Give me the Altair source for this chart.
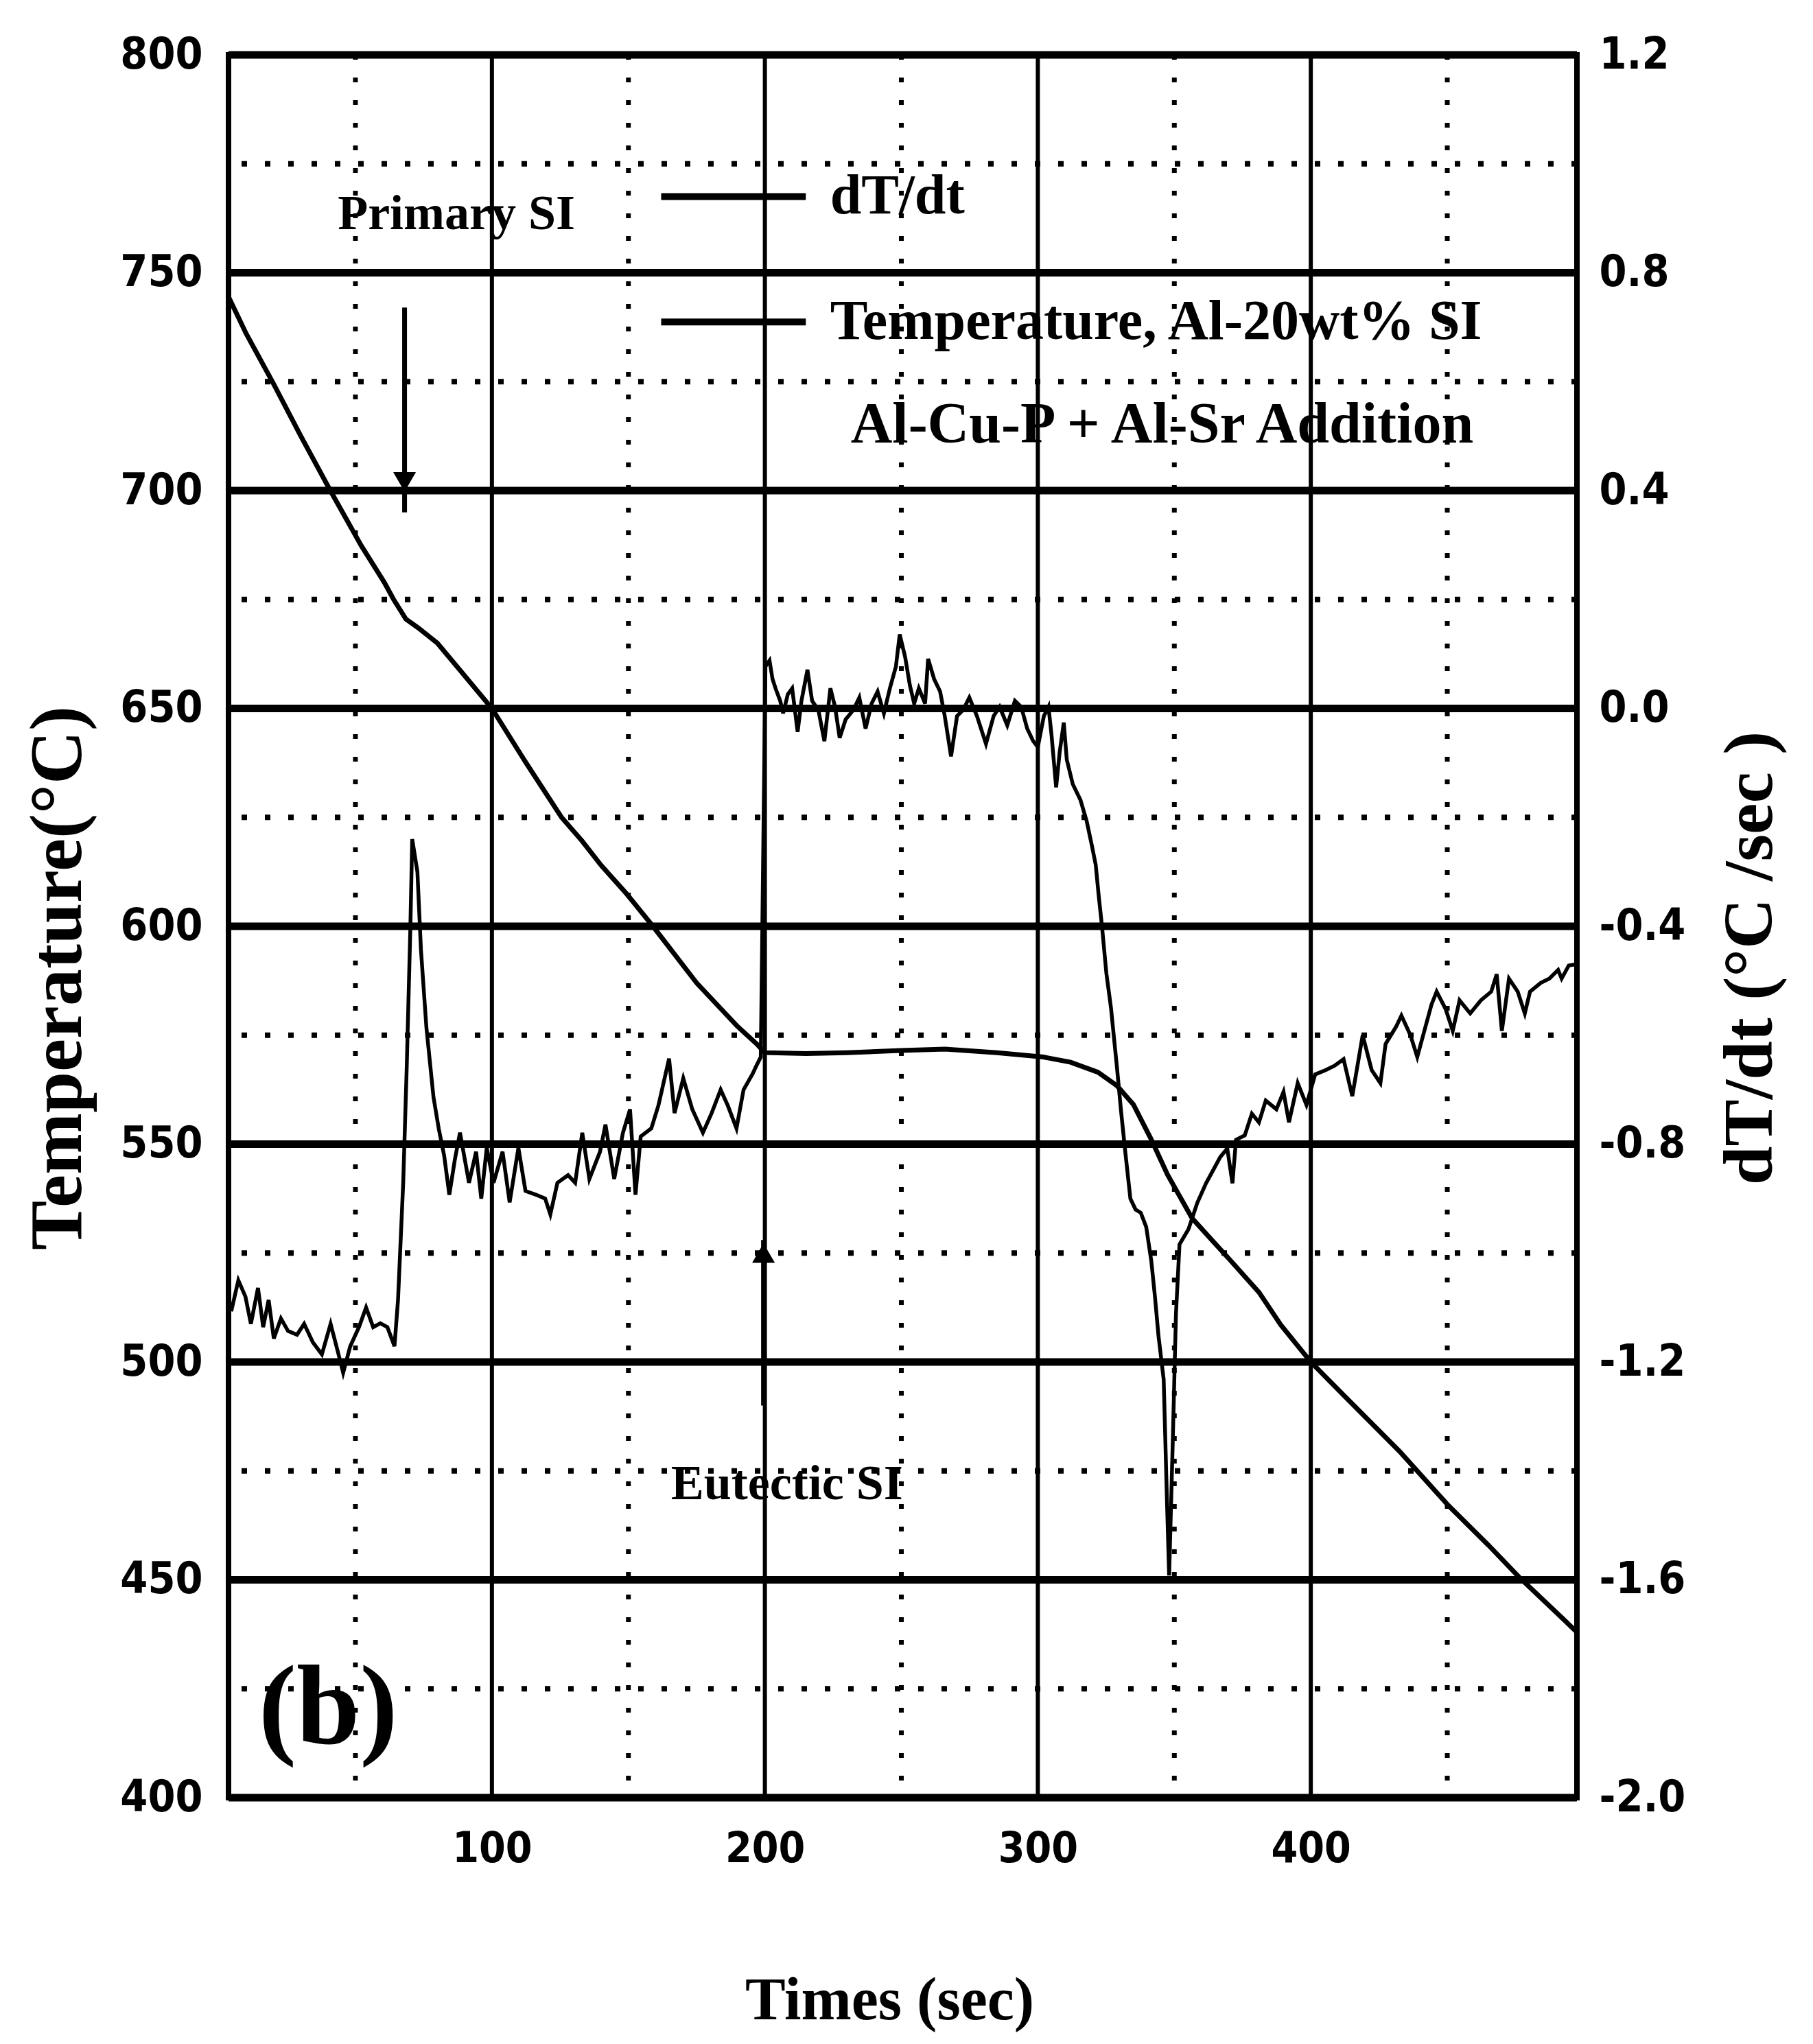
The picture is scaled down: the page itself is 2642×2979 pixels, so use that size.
import altair as alt
import pandas as pd

# ---------------- data ----------------
time_temp = [3.5, 10, 20, 30, 40.8, 52, 60.5, 64, 68.5, 73,
             80, 88, 100, 112, 125.5, 133, 140, 149, 159, 175,
             190, 197, 200, 215, 230, 250, 266, 285, 302, 312,
             322, 329, 335, 341.6, 347.5, 356.5, 364, 370, 381, 389,
             400, 415, 432.5, 450.5, 465, 476.5, 497.5]
temp = [744.5, 736, 724.5, 712.5, 700, 687.5, 679, 675, 670.5, 668.5,
        665, 659, 650, 638, 625, 619.6, 614, 607.7, 600, 587,
        577, 573, 571, 570.8, 571, 571.5, 571.8, 571, 570, 568.8,
        566.5, 563.4, 559.1, 551, 543, 533, 527.8, 523.7, 516, 508.5,
        500, 490.5, 479.5, 467, 458, 450.5, 438]

time_rate_1 = [4.5, 7.1, 9.7, 11.7, 14.3, 16.2, 18.2, 20.1, 22.7, 25.3,
               28.6, 31.2, 34.4, 37.7, 40.9, 43.5, 45.5, 48.1, 51.3, 53.9,
               56.5, 59.1, 61.7, 64.3, 65.6, 67.5, 68.8, 70.1, 70.8, 72.7,
               74.0, 76.0, 78.6, 80.5, 82.5, 84.4, 86.4, 88.3, 91.6, 94.2,
               96.1, 98.1, 100.6, 103.9, 106.5, 109.7, 112.3, 116.2, 119.5, 121.4,
               124.0, 127.9, 130.5, 133.1, 135.7, 139.6, 141.6, 144.8, 148.0, 150.6,
               152.6, 154.5, 158.4, 161.0, 164.9, 166.9, 170.1, 173.4, 177.3, 180.5,
               183.8, 186.4, 189.6, 192.2, 195.5, 196.8, 198.5]
rate_1 = [-1.107, -1.05, -1.08, -1.13, -1.064, -1.136, -1.086, -1.157, -1.12, -1.143,
          -1.15, -1.13, -1.164, -1.186, -1.13, -1.18, -1.22, -1.171, -1.136, -1.1,
          -1.136, -1.129, -1.136, -1.171, -1.086, -0.871, -0.657, -0.407, -0.24, -0.3,
          -0.443, -0.586, -0.714, -0.771, -0.821, -0.893, -0.829, -0.779, -0.871, -0.814,
          -0.9, -0.807, -0.871, -0.814, -0.907, -0.807, -0.886, -0.893, -0.9, -0.929,
          -0.871, -0.857, -0.871, -0.779, -0.864, -0.814, -0.764, -0.864, -0.779, -0.736,
          -0.893, -0.786, -0.771, -0.729, -0.643, -0.743, -0.679, -0.736, -0.779, -0.743,
          -0.7, -0.729, -0.771, -0.7, -0.671, -0.657, -0.64]

time_rate_2 = [200.2, 201.7, 202.8, 203.9, 205.6, 206.7, 208.4, 210.0, 212.0, 213.4,
               215.6, 217.3, 219.6, 221.8, 224.0, 225.7, 227.4, 229.6, 232.4, 234.6,
               236.9, 239.1, 241.3, 243.6, 245.8, 248.0, 249.4, 251.4, 253.1, 254.7,
               256.4, 258.7, 259.8, 262.0, 264.2, 265.9, 268.2, 270.4, 272.6, 274.9,
               277.7, 281.0, 283.8, 286.0, 288.8, 291.6, 293.9, 296.1, 298.3, 300.0,
               302.2, 303.9, 305.0, 306.7, 308.0, 309.5, 310.6, 312.8, 315.6, 317.9,
               319.6, 321.2, 322.3, 323.5, 325.1, 326.8, 329.0, 330.5, 331.9, 333.9,
               335.8, 337.7, 339.7, 341.6, 342.9, 344.2, 346.1, 347.4, 348.1, 349.4,
               350.6, 351.9, 355.2]
rate_2 = [0.077, 0.088, 0.054, 0.037, 0.014, -0.009, 0.026, 0.037, -0.043, 0.014,
          0.071, 0.014, -0.003, -0.06, 0.037, 0.003, -0.054, -0.02, -0.003, 0.02,
          -0.037, 0.009, 0.031, -0.009, 0.037, 0.077, 0.136, 0.094, 0.043, 0.009,
          0.037, 0.009, 0.091, 0.054, 0.031, -0.014, -0.088, -0.014, -0.003, 0.02,
          -0.014, -0.065, -0.014, 0.003, -0.031, 0.014, 0.003, -0.037, -0.06, -0.071,
          -0.014, 0.003, -0.048, -0.145, -0.08, -0.026, -0.094, -0.139, -0.168, -0.207,
          -0.247, -0.287, -0.344, -0.4, -0.486, -0.55, -0.66, -0.74, -0.808, -0.9,
          -0.92, -0.926, -0.952, -1.016, -1.08, -1.152, -1.232, -1.472, -1.592, -1.352,
          -1.112, -0.984, -0.956]

time_rate_3 = [358.4, 361.6, 364.2, 366.8, 369.4, 371.3, 372.6, 375.8, 378.4, 381.0,
               383.5, 387.4, 390.0, 392.0, 395.2, 398.4, 401.6, 405.5, 408.7, 412.0,
               415.2, 419.0, 422.3, 425.5, 427.4, 431.3, 433.2, 436.5, 439.0, 441.6,
               444.2, 446.1, 449.4, 452.0, 454.5, 458.4, 462.3, 466.1, 468.1, 470.0,
               472.6, 475.8, 478.4, 480.3, 484.2, 487.4, 490.6, 491.9, 494.5, 497.0]
rate_3 = [-0.908, -0.872, -0.848, -0.824, -0.808, -0.872, -0.792, -0.784, -0.744, -0.76,
          -0.72, -0.736, -0.704, -0.76, -0.688, -0.728, -0.672, -0.664, -0.656, -0.644,
          -0.712, -0.6, -0.664, -0.688, -0.616, -0.584, -0.564, -0.6, -0.64, -0.592,
          -0.544, -0.52, -0.552, -0.592, -0.536, -0.56, -0.536, -0.52, -0.488, -0.592,
          -0.496, -0.52, -0.56, -0.52, -0.504, -0.496, -0.48, -0.496, -0.472, -0.47]

# grid / tick values
temp_solid = [800, 750, 700, 650, 600, 550, 500, 450, 400]
temp_dotted = [775, 725, 675, 625, 575, 525, 475, 425]
time_solid = [100, 200, 300, 400]
time_dotted = [50, 150, 250, 350, 450]
time_ticks = [100, 200, 300, 400]
temp_ticks = [800, 750, 700, 650, 600, 550, 500, 450, 400]
rate_ticks = [1.2, 0.8, 0.4, 0.0, -0.4, -0.8, -1.2, -1.6, -2.0]

# annotations (data coordinates)
arrow_t = [68, 199.5]
arrow_top = [742, 528]
arrow_bottom = [695, 490]
legend_labels = ["dT/dt", "Temperature, Al-20wt% SI"]
legend_T = [767.5, 738.7]

# ---------------- chart ----------------
SERIF = "Liberation Serif"
NUM = "'DejaVu Sans Condensed', 'Liberation Sans Narrow', 'Liberation Sans'"
FIX_MINUS = "replace(datum.label, '\u2212', '-')"

xscale = alt.Scale(domain=[3.5, 497.5], nice=False, zero=False)
tscale = alt.Scale(domain=[400, 800], nice=False, zero=False)
rscale = alt.Scale(domain=[-2.0, 1.2], nice=False, zero=False)

xaxis = alt.Axis(values=time_ticks, title="Times (sec)", grid=False, ticks=False, domain=False,
                 format="d", labelFont=NUM, labelFontSize=62, labelFontWeight="bold",
                 labelPadding=44, labelFlush=False, labelOverlap=False,
                 titleFont=SERIF, titleFontSize=88, titleFontWeight="bold",
                 titleX=963, titleY=296, titleAlign="center", titleBaseline="middle")
yaxis = alt.Axis(values=temp_ticks, title="Temperature(°C)", orient="left", grid=False,
                 ticks=False, domain=False, format="d",
                 labelFont=NUM, labelFontSize=64, labelFontWeight="bold",
                 labelPadding=38, labelFlush=False, labelOverlap=False,
                 titleFont=SERIF, titleFontSize=108, titleFontWeight="bold",
                 titleAngle=270, titleX=-248, titleY=1345,
                 titleAlign="center", titleBaseline="middle")
raxis = alt.Axis(values=rate_ticks, title="dT/dt (°C /sec )", orient="right", grid=False,
                 ticks=False, domain=False, format=".1f", labelExpr=FIX_MINUS,
                 labelFont=NUM, labelFontSize=64, labelFontWeight="bold",
                 labelPadding=32, labelFlush=False, labelOverlap=False,
                 titleFont=SERIF, titleFontSize=102, titleFontWeight="bold",
                 titleAngle=270, titleX=252, titleY=1316,
                 titleAlign="center", titleBaseline="middle")

X = alt.X("t:Q", scale=xscale, axis=xaxis)
Y = alt.Y("T:Q", scale=tscale, axis=yaxis)

h_solid = alt.Chart(pd.DataFrame({"T": temp_solid})).mark_rule(
    color="black", strokeWidth=11).encode(y=Y)
h_dot = alt.Chart(pd.DataFrame({"T": temp_dotted})).mark_rule(
    color="black", strokeWidth=8, strokeDash=[8, 26]).encode(y=Y)
v_solid = alt.Chart(pd.DataFrame({"t": time_solid})).mark_rule(
    color="black", strokeWidth=6).encode(x=X)
v_dot = alt.Chart(pd.DataFrame({"t": time_dotted})).mark_rule(
    color="black", strokeWidth=7, strokeDash=[7, 26]).encode(x=X)

temp_line = alt.Chart(pd.DataFrame({"t": time_temp, "T": temp})).mark_line(
    color="black", strokeWidth=7).encode(x=X, y=Y)

arrows = alt.Chart(pd.DataFrame({"t": arrow_t, "T": arrow_top, "T2": arrow_bottom})).mark_rule(
    color="black", strokeWidth=7).encode(x=X, y=Y, y2="T2:Q")
head_down = alt.Chart(pd.DataFrame({"t": [arrow_t[0]], "T": [arrow_bottom[0] + 7]})).mark_point(
    shape="triangle-down", filled=True, color="black", size=1100, opacity=1).encode(x=X, y=Y)
head_up = alt.Chart(pd.DataFrame({"t": [arrow_t[1]], "T": [arrow_top[1] - 3]})).mark_point(
    shape="triangle-up", filled=True, color="black", size=1100, opacity=1).encode(x=X, y=Y)

legend_lines = alt.Chart(pd.DataFrame({"t": [162, 162], "t2": [215, 215], "T": legend_T})).mark_rule(
    color="black", strokeWidth=10).encode(x=X, x2="t2:Q", y=Y)
legend_text = alt.Chart(pd.DataFrame({"t": [223.9, 223.9], "T": legend_T, "label": legend_labels})).mark_text(
    align="left", baseline="middle", font=SERIF, fontSize=82, fontWeight="bold", color="black"
).encode(x=X, y=Y, text="label:N")

note_text = alt.Chart(pd.DataFrame({"t": [345.5], "T": [715], "label": ["Al-Cu-P + Al-Sr Addition"]})).mark_text(
    align="center", baseline="middle", font=SERIF, fontSize=84, fontWeight="bold", color="black"
).encode(x=X, y=Y, text="label:N")
primary_text = alt.Chart(pd.DataFrame({"t": [87], "T": [763.5], "label": ["Primary SI"]})).mark_text(
    align="center", baseline="middle", font=SERIF, fontSize=72, fontWeight="bold", color="black"
).encode(x=X, y=Y, text="label:N")
eutectic_text = alt.Chart(pd.DataFrame({"t": [165.6], "T": [472], "label": ["Eutectic SI"]})).mark_text(
    align="left", baseline="middle", font=SERIF, fontSize=72, fontWeight="bold", color="black"
).encode(x=X, y=Y, text="label:N")
panel_text = alt.Chart(pd.DataFrame({"t": [40], "T": [420.3], "label": ["(b)"]})).mark_text(
    align="center", baseline="middle", font=SERIF, fontSize=166, fontWeight="bold", color="black"
).encode(x=X, y=Y, text="label:N")

rate_df = pd.DataFrame({"t": time_rate_1 + time_rate_2 + time_rate_3,
                        "rate": rate_1 + rate_2 + rate_3})
rate_line = alt.Chart(rate_df).mark_line(color="black", strokeWidth=5.5).encode(
    x=X, y=alt.Y("rate:Q", scale=rscale, axis=raxis))

left = alt.layer(h_dot, v_dot, h_solid, v_solid, temp_line, arrows, head_down, head_up,
                 legend_lines, legend_text, note_text, primary_text, eutectic_text, panel_text)

chart = alt.layer(left, rate_line).resolve_scale(y="independent").properties(
    width=1965, height=2540,
    autosize=alt.AutoSizeParams(type="none"),
    padding={"left": 333, "top": 80, "right": 344, "bottom": 359},
    background="white",
).configure_view(stroke="black", strokeWidth=8)

chart.save("out.html", embed_options={"renderer": "svg", "actions": False})
